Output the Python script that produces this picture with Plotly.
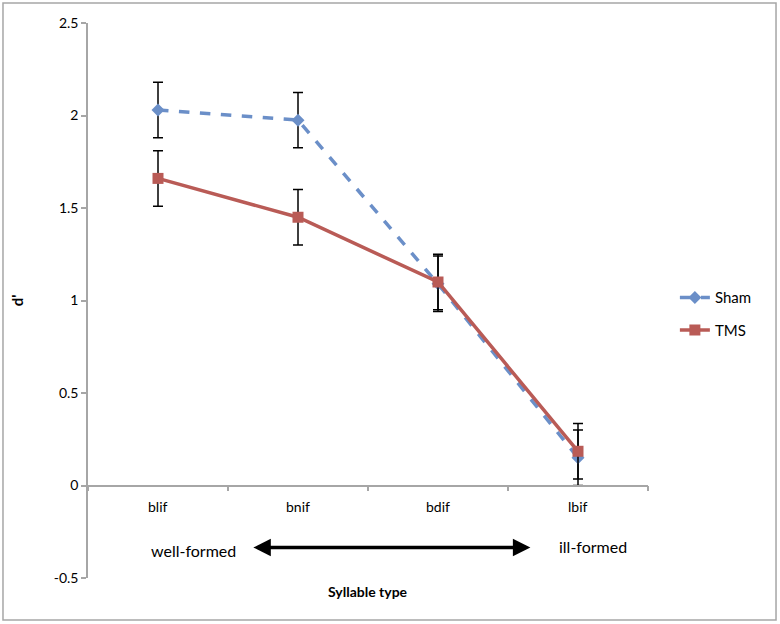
import plotly.graph_objects as go

categories = ["blif", "bnif", "bdif", "lbif"]
sham_values = [2.03, 1.975, 1.09, 0.15]
sham_err = [0.15, 0.15, 0.15, 0.15]
tms_values = [1.66, 1.45, 1.10, 0.185]
tms_err = [0.15, 0.15, 0.15, 0.15]
y_ticks = [-0.5, 0, 0.5, 1, 1.5, 2, 2.5]

FONT = "Lato, Open Sans, sans-serif"
BLUE = "#6b8fc8"
RED = "#b95b56"
GRAY = "#a6a6a6"

fig = go.Figure()
fig.add_trace(go.Scatter(
    x=categories, y=sham_values, name="Sham", mode="lines+markers",
    line=dict(color=BLUE, width=3.5, dash="dash"),
    marker=dict(symbol="diamond", size=10, color=BLUE),
    error_y=dict(type="data", array=sham_err, color="black", thickness=1.5, width=5),
    legendgroup="a",
))
fig.add_trace(go.Scatter(
    x=categories, y=tms_values, name="TMS", mode="lines+markers",
    line=dict(color=RED, width=3.5),
    marker=dict(symbol="square", size=11, color=RED),
    error_y=dict(type="data", array=tms_err, color="black", thickness=1.5, width=5),
    legendgroup="b",
))

# category labels below the zero line
for i, c in enumerate(categories):
    fig.add_annotation(x=c, y=-0.115, xref="x", yref="y", text=c, showarrow=False,
                       font=dict(family=FONT, size=14, color="black"))

fig.add_annotation(x=0.25, y=-0.35, xref="x", yref="y", text="well-formed", showarrow=False,
                   font=dict(family=FONT, size=16, color="black"))
fig.add_annotation(x=3.11, y=-0.33, xref="x", yref="y", text="ill-formed", showarrow=False,
                   font=dict(family=FONT, size=16, color="black"))
fig.add_annotation(x=2.66, y=-0.335, ax=0.67, ay=-0.335, xref="x", yref="y",
                   axref="x", ayref="y", text="", showarrow=True,
                   arrowhead=2, arrowside="end+start", arrowsize=1, arrowwidth=3.5,
                   arrowcolor="black")
fig.add_annotation(x=0.5, y=-0.0245, xref="paper", yref="paper", text="<b>Syllable type</b>",
                   showarrow=False, yanchor="middle",
                   font=dict(family=FONT, size=14, color="black"))

# outer chart border
fig.add_shape(type="rect", xref="paper", yref="paper", x0=-0.1518, x1=1.2286, y0=-0.0757, y1=1.036,
              line=dict(color=GRAY, width=1.5))

fig.update_layout(
    width=780, height=624,
    margin=dict(l=88, r=132, t=23, b=46),
    paper_bgcolor="white", plot_bgcolor="white",
    font=dict(family=FONT, size=14, color="black"),
    showlegend=True,
    legend=dict(x=1.048, y=0.476, xanchor="left", yanchor="middle",
                font=dict(family=FONT, size=15, color="black"),
                tracegroupgap=10, bgcolor="rgba(0,0,0,0)"),
    xaxis=dict(type="category", range=[-0.5, 3.5], anchor="free", position=1/6,
               showline=True, linecolor=GRAY, linewidth=1.5,
               ticks="outside", ticklen=5, tickcolor=GRAY, tickwidth=1.5,
               tickson="boundaries", showticklabels=False, showgrid=False, zeroline=False),
    yaxis=dict(range=[-0.5, 2.5], tickvals=y_ticks, ticktext=[str(v) if v != int(v) else str(int(v)) for v in y_ticks],
               showline=True, linecolor=GRAY, linewidth=1.5,
               ticks="outside", ticklen=5, tickcolor=GRAY, tickwidth=1.5,
               showgrid=False, zeroline=False,
               title=dict(text="<b>d'</b>", font=dict(family=FONT, size=15, color="black"), standoff=26),
               tickfont=dict(family=FONT, size=14, color="black")),
)

fig.write_html("out.html", config={"displayModeBar": False},
               post_script="document.body.style.margin='0';")
